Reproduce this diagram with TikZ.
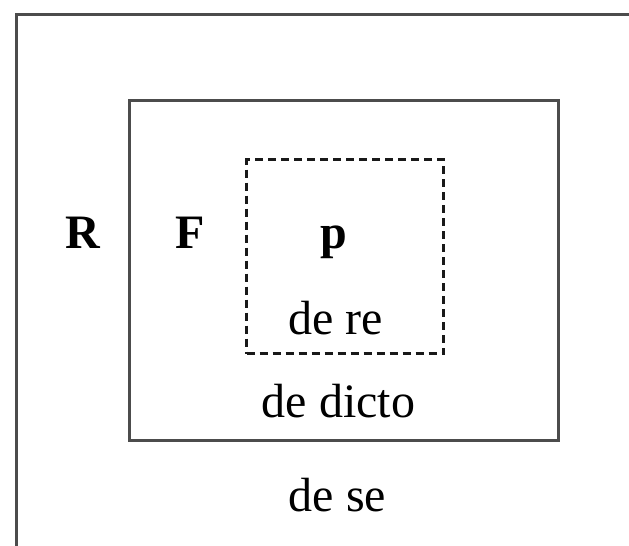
\documentclass[tikz,border=0pt]{standalone}
\usepackage{fontspec}
\setmainfont{Liberation Serif}
\usetikzlibrary{positioning}
\tikzset{framebox/.style={draw=black!70, line width=1.3pt, inner sep=0pt},
        scopebox/.style={draw=black!90, line width=1.7pt, dash pattern=on 4pt off 2.5pt, inner sep=0pt},
        letter/.style={anchor=base, inner sep=0pt, font=\fontsize{24}{29}\selectfont\bfseries},
        phrase/.style={anchor=base, inner sep=0pt, font=\fontsize{24}{29}\selectfont},
        }

\begin{document}
\begin{tikzpicture}[x=0.5pt, y=-0.5pt]
    \useasboundingbox (0,0) rectangle (629,546);
    \clip (0,0) rectangle (629,546);

    % nested boxes
    \node[framebox, minimum width=320pt, minimum height=280pt, anchor=north west] (world) at (15,13) {};
    \node[framebox, minimum width=214.5pt, minimum height=170pt, anchor=north west] (frame) at (128,99) {};
    \node[scopebox, minimum width=98.5pt, minimum height=97pt, anchor=north west] (prop) at (245,158) {};

    % labels
    \node[letter] (R) at (82.5,249) {R};
    \node[letter] (F) at (190,249) {F};
    \node[letter] (p) at (333.5,249) {p};
    \node[phrase] (dere) at (335.5,335) {de re};
    \node[phrase] (dedicto) at (338.5,418) {de dicto};
    \node[phrase] (dese) at (337.5,512) {de se};
\end{tikzpicture}
\end{document}
